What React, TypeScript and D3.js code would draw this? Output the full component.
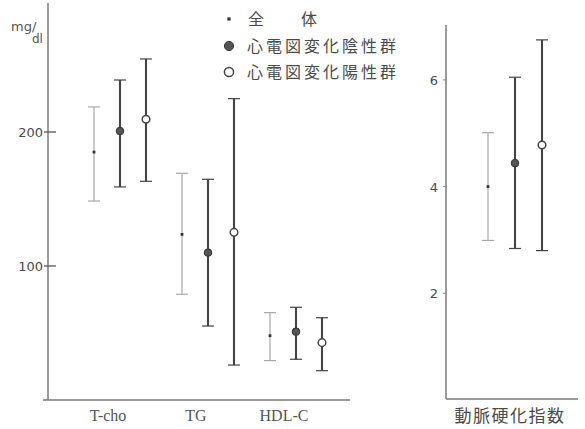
import React from "react";
import * as d3 from "d3";

// Lipid measures (mg/dl), mean with lower / upper whisker for each group
const lipidCategories = ["T-cho", "TG", "HDL-C"];
const seriesNames = ["全体", "心電図変化陰性群", "心電図変化陽性群"];
const allMean = [185, 123.6, 48];
const allLow = [148.5, 78.9, 29.4];
const allHigh = [218.7, 169.2, 65.2];
const negMean = [200.7, 110, 51];
const negLow = [159, 55.2, 30.4];
const negHigh = [238.8, 164.7, 69.2];
const posMean = [209.5, 125.1, 42.8];
const posLow = [163.2, 26.1, 21.9];
const posHigh = [254.5, 224.9, 61.4];

// Atherogenic index
const aiCategory = ["動脈硬化指数"];
const aiMean = [4.0, 4.44, 4.78];
const aiLow = [2.99, 2.84, 2.8];
const aiHigh = [5.01, 6.05, 6.75];

const leftTicks = [100, 200];
const rightTicks = [2, 4, 6];

const W = 585;
const H = 429;

type Style = { stroke: string; width: number; marker: "dot" | "filled" | "open" };
const styles: Style[] = [
  { stroke: "#a8a8a8", width: 1.2, marker: "dot" },
  { stroke: "#444", width: 2.1, marker: "filled" },
  { stroke: "#444", width: 2.1, marker: "open" },
];

function Marker({ x, y, s, big }: { x: number; y: number; s: Style; big?: boolean }) {
  const r = big ? 4.6 : 3.8;
  if (s.marker === "dot") {
    const a = big ? 3.2 : 2.8;
    return <rect x={x - a / 2} y={y - a / 2} width={a} height={a} fill="#333" />;
  }
  if (s.marker === "filled") {
    return <circle cx={x} cy={y} r={r} fill="#555" stroke="#333" strokeWidth={1} />;
  }
  return <circle cx={x} cy={y} r={r} fill="#fff" stroke="#444" strokeWidth={1.5} />;
}

function ErrorBar({ x, yMean, yLow, yHigh, s }: { x: number; yMean: number; yLow: number; yHigh: number; s: Style }) {
  const cap = 6;
  return (
    <g>
      <line x1={x} x2={x} y1={yHigh} y2={yLow} stroke={s.stroke} strokeWidth={s.width} />
      <line x1={x - cap} x2={x + cap} y1={yHigh} y2={yHigh} stroke={s.stroke} strokeWidth={1.2} />
      <line x1={x - cap} x2={x + cap} y1={yLow} y2={yLow} stroke={s.stroke} strokeWidth={1.2} />
      <Marker x={x} y={yMean} s={s} />
    </g>
  );
}

export default function App() {
  const axisColor = "#7a7a7a";
  const textColor = "#4a4a4a";

  // Left panel scales
  const yL = d3.scaleLinear().domain([0, 100]).range([400, 266]);
  const xGroup = d3.scalePoint<string>().domain(lipidCategories).range([120, 296]);
  const xSeries = d3.scalePoint<string>().domain(seriesNames).range([-26, 26]);

  // Right panel scales
  const yR = d3.scaleLinear().domain([0, 2]).range([400, 293.3]);
  const xR = d3.scalePoint<string>().domain(aiCategory).range([515, 515]);
  const xRSeries = d3.scalePoint<string>().domain(seriesNames).range([-27, 27]);

  const means = [allMean, negMean, posMean];
  const lows = [allLow, negLow, posLow];
  const highs = [allHigh, negHigh, posHigh];

  const legendY = [19, 46, 72];

  return (
    <svg width={W} height={H} style={{ position: "absolute", left: 0, top: 0, background: "#fff" }}>
      {/* Left panel axes */}
      <line x1={48} x2={48} y1={3} y2={400} stroke={axisColor} strokeWidth={1.5} />
      <line x1={43} x2={350} y1={400} y2={400} stroke={axisColor} strokeWidth={1.5} />
      {leftTicks.map((t) => (
        <g key={t}>
          <line x1={44} x2={56} y1={yL(t)} y2={yL(t)} stroke="#555" strokeWidth={1.3} />
          <text x={43} y={yL(t) + 5} textAnchor="end" fontFamily="DejaVu Sans, sans-serif" fontSize={13} fill={textColor}>
            {t}
          </text>
        </g>
      ))}
      <text x={11} y={31} fontFamily="DejaVu Sans, sans-serif" fontSize={13} fill="#555">mg/</text>
      <text x={32} y={43} fontFamily="DejaVu Sans, sans-serif" fontSize={12} fill="#555">dl</text>

      {lipidCategories.map((c, i) => (
        <g key={c}>
          {seriesNames.map((s, j) => (
            <ErrorBar
              key={s}
              x={(xGroup(c) ?? 0) + (xSeries(s) ?? 0)}
              yMean={yL(means[j][i])}
              yLow={yL(lows[j][i])}
              yHigh={yL(highs[j][i])}
              s={styles[j]}
            />
          ))}
          <text
            x={(xGroup(c) ?? 0) - 12}
            y={421}
            textAnchor="middle"
            fontFamily="Liberation Serif, DejaVu Serif, serif"
            fontSize={16}
            fill="#555"
          >
            {c}
          </text>
        </g>
      ))}

      {/* Right panel axes */}
      <line x1={446} x2={446} y1={25} y2={399} stroke={axisColor} strokeWidth={1.5} />
      <line x1={446} x2={578} y1={399} y2={399} stroke={axisColor} strokeWidth={1.5} />
      {rightTicks.map((t) => (
        <g key={t}>
          <line x1={443} x2={447} y1={yR(t)} y2={yR(t)} stroke="#888" strokeWidth={1} />
          <text x={438} y={yR(t) + 5} textAnchor="end" fontFamily="DejaVu Sans, sans-serif" fontSize={13} fill={textColor}>
            {t}
          </text>
        </g>
      ))}
      {seriesNames.map((s, j) => (
        <ErrorBar
          key={s}
          x={(xR(aiCategory[0]) ?? 0) + (xRSeries(s) ?? 0)}
          yMean={yR(aiMean[j])}
          yLow={yR(aiLow[j])}
          yHigh={yR(aiHigh[j])}
          s={styles[j]}
        />
      ))}
      <text
        x={510}
        y={422}
        textAnchor="middle"
        fontFamily="Noto Sans CJK JP, sans-serif"
        fontSize={17}
        letterSpacing={1.5}
        fill={textColor}
      >
        {aiCategory[0]}
      </text>

      {/* Legend */}
      {seriesNames.map((s, j) => (
        <g key={s}>
          <Marker x={229} y={legendY[j]} s={styles[j]} big />
          {j === 0 ? (
            <g fontFamily="Noto Sans CJK JP, sans-serif" fontSize={16} fill={textColor}>
              <text x={248} y={legendY[j] + 6}>{s.charAt(0)}</text>
              <text x={301} y={legendY[j] + 6}>{s.charAt(1)}</text>
            </g>
          ) : (
            <text
              x={247}
              y={legendY[j] + 6}
              fontFamily="Noto Sans CJK JP, sans-serif"
              fontSize={16}
              letterSpacing={3}
              fill={textColor}
            >
              {s}
            </text>
          )}
        </g>
      ))}
    </svg>
  );
}
